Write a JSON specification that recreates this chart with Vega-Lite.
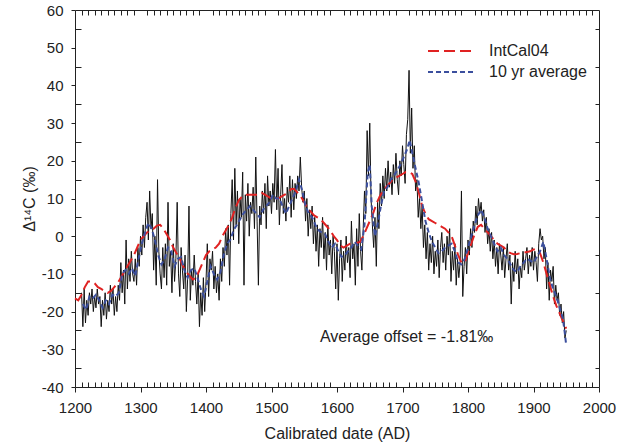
{
  "$schema": "https://vega.github.io/schema/vega-lite/v6.json",
  "width": 524,
  "height": 377,
  "autosize": "none",
  "padding": {"left": 75, "top": 10, "right": 23, "bottom": 59},
  "background": "white",
  "config": {
    "view": {"stroke": "#222", "strokeWidth": 1},
    "font": "Liberation Sans",
    "axis": {"labelFont": "Liberation Sans", "titleFont": "Liberation Sans", "labelColor": "#222", "titleColor": "#222", "tickColor": "#222", "domain": false, "grid": false, "titleFontWeight": "normal"}
  },
  "datasets": {
    "annual": [
      {"year":1210,"v":-15},{"year":1212,"v":-24},{"year":1214,"v":-14},{"year":1216,"v":-23},{"year":1218,"v":-17},{"year":1220,"v":-21},{"year":1222,"v":-15},{"year":1224,"v":-18},{"year":1226,"v":-14},{"year":1228,"v":-20},
      {"year":1230,"v":-16},{"year":1232,"v":-19},{"year":1234,"v":-14},{"year":1236,"v":-18},{"year":1238,"v":-16},{"year":1240,"v":-24},{"year":1242,"v":-17},{"year":1244,"v":-21},{"year":1246,"v":-15},{"year":1248,"v":-22},
      {"year":1250,"v":-17},{"year":1252,"v":-20},{"year":1254,"v":-13},{"year":1256,"v":-18},{"year":1258,"v":-14},{"year":1260,"v":-21},{"year":1262,"v":-16},{"year":1264,"v":-20},{"year":1266,"v":-13},{"year":1268,"v":-17},
      {"year":1270,"v":-7},{"year":1272,"v":-15},{"year":1274,"v":-9},{"year":1276,"v":-18},{"year":1278,"v":-1},{"year":1280,"v":-14},{"year":1282,"v":-6},{"year":1284,"v":-12},{"year":1286,"v":-4},{"year":1288,"v":-10},
      {"year":1290,"v":-12},{"year":1292,"v":-6},{"year":1294,"v":-13},{"year":1296,"v":-3},{"year":1298,"v":-8},{"year":1300,"v":0},{"year":1302,"v":-5},{"year":1304,"v":3},{"year":1306,"v":-3},{"year":1308,"v":5},
      {"year":1310,"v":9},{"year":1312,"v":-1},{"year":1314,"v":12},{"year":1316,"v":2},{"year":1318,"v":6},{"year":1320,"v":-9},{"year":1322,"v":0},{"year":1324,"v":-13},{"year":1326,"v":15},{"year":1328,"v":-4},
      {"year":1330,"v":-10},{"year":1332,"v":-14},{"year":1334,"v":-3},{"year":1336,"v":-11},{"year":1338,"v":-2},{"year":1340,"v":-13},{"year":1342,"v":9},{"year":1344,"v":-8},{"year":1346,"v":-4},{"year":1348,"v":-15},
      {"year":1350,"v":-2},{"year":1352,"v":-12},{"year":1354,"v":-6},{"year":1356,"v":9},{"year":1358,"v":-10},{"year":1360,"v":-16},{"year":1362,"v":-3},{"year":1364,"v":-9},{"year":1366,"v":-14},{"year":1368,"v":-5},
      {"year":1370,"v":-20},{"year":1372,"v":-11},{"year":1374,"v":8},{"year":1376,"v":-17},{"year":1378,"v":-9},{"year":1380,"v":-13},{"year":1382,"v":-5},{"year":1384,"v":-12},{"year":1386,"v":-18},{"year":1388,"v":-10},
      {"year":1390,"v":-24},{"year":1392,"v":-15},{"year":1394,"v":-21},{"year":1396,"v":-11},{"year":1398,"v":-20},{"year":1400,"v":-12},{"year":1402,"v":-2},{"year":1404,"v":-16},{"year":1406,"v":-6},{"year":1408,"v":-9},
      {"year":1410,"v":-4},{"year":1412,"v":-14},{"year":1414,"v":-8},{"year":1416,"v":-15},{"year":1418,"v":-10},{"year":1420,"v":-17},{"year":1422,"v":-6},{"year":1424,"v":-12},{"year":1426,"v":-3},{"year":1428,"v":-8},
      {"year":1430,"v":2},{"year":1432,"v":-5},{"year":1434,"v":3},{"year":1436,"v":-13},{"year":1438,"v":6},{"year":1440,"v":15},{"year":1442,"v":-1},{"year":1444,"v":18},{"year":1446,"v":3},{"year":1448,"v":12},
      {"year":1450,"v":-2},{"year":1452,"v":10},{"year":1454,"v":5},{"year":1456,"v":17},{"year":1458,"v":-13},{"year":1460,"v":11},{"year":1462,"v":4},{"year":1464,"v":14},{"year":1466,"v":0},{"year":1468,"v":9},
      {"year":1470,"v":6},{"year":1472,"v":13},{"year":1474,"v":2},{"year":1476,"v":21},{"year":1478,"v":4},{"year":1480,"v":-13},{"year":1482,"v":8},{"year":1484,"v":3},{"year":1486,"v":12},{"year":1488,"v":6},
      {"year":1490,"v":14},{"year":1492,"v":2},{"year":1494,"v":16},{"year":1496,"v":8},{"year":1498,"v":12},{"year":1500,"v":6},{"year":1502,"v":14},{"year":1504,"v":9},{"year":1506,"v":23},{"year":1508,"v":7},
      {"year":1510,"v":18},{"year":1512,"v":3},{"year":1514,"v":11},{"year":1516,"v":19},{"year":1518,"v":6},{"year":1520,"v":10},{"year":1522,"v":4},{"year":1524,"v":13},{"year":1526,"v":9},{"year":1528,"v":16},
      {"year":1530,"v":5},{"year":1532,"v":15},{"year":1534,"v":7},{"year":1536,"v":14},{"year":1538,"v":10},{"year":1540,"v":16},{"year":1542,"v":12},{"year":1544,"v":21},{"year":1546,"v":13},{"year":1548,"v":9},
      {"year":1550,"v":12},{"year":1552,"v":4},{"year":1554,"v":10},{"year":1556,"v":0},{"year":1558,"v":7},{"year":1560,"v":2},{"year":1562,"v":8},{"year":1564,"v":-2},{"year":1566,"v":5},{"year":1568,"v":-4},
      {"year":1570,"v":3},{"year":1572,"v":-8},{"year":1574,"v":2},{"year":1576,"v":-3},{"year":1578,"v":5},{"year":1580,"v":-6},{"year":1582,"v":1},{"year":1584,"v":-9},{"year":1586,"v":3},{"year":1588,"v":-5},
      {"year":1590,"v":-1},{"year":1592,"v":-10},{"year":1594,"v":0},{"year":1596,"v":-4},{"year":1598,"v":-14},{"year":1600,"v":-2},{"year":1602,"v":-17},{"year":1604,"v":-6},{"year":1606,"v":-1},{"year":1608,"v":-12},
      {"year":1610,"v":-4},{"year":1612,"v":-9},{"year":1614,"v":0},{"year":1616,"v":-7},{"year":1618,"v":-3},{"year":1620,"v":-11},{"year":1622,"v":4},{"year":1624,"v":-6},{"year":1626,"v":-2},{"year":1628,"v":-13},
      {"year":1630,"v":2},{"year":1632,"v":-8},{"year":1634,"v":6},{"year":1636,"v":-4},{"year":1638,"v":-9},{"year":1640,"v":2},{"year":1642,"v":12},{"year":1644,"v":6},{"year":1646,"v":28},{"year":1648,"v":16},
      {"year":1650,"v":30},{"year":1652,"v":10},{"year":1654,"v":3},{"year":1656,"v":-3},{"year":1658,"v":5},{"year":1660,"v":-8},{"year":1662,"v":9},{"year":1664,"v":2},{"year":1666,"v":14},{"year":1668,"v":8},
      {"year":1670,"v":16},{"year":1672,"v":10},{"year":1674,"v":18},{"year":1676,"v":12},{"year":1678,"v":20},{"year":1680,"v":13},{"year":1682,"v":17},{"year":1684,"v":11},{"year":1686,"v":19},{"year":1688,"v":14},
      {"year":1690,"v":22},{"year":1692,"v":15},{"year":1694,"v":11},{"year":1696,"v":20},{"year":1698,"v":16},{"year":1700,"v":24},{"year":1702,"v":19},{"year":1704,"v":14},{"year":1706,"v":27},{"year":1708,"v":31},
      {"year":1710,"v":44},{"year":1712,"v":22},{"year":1714,"v":34},{"year":1716,"v":18},{"year":1718,"v":24},{"year":1720,"v":12},{"year":1722,"v":15},{"year":1724,"v":5},{"year":1726,"v":10},{"year":1728,"v":2},
      {"year":1730,"v":8},{"year":1732,"v":-3},{"year":1734,"v":3},{"year":1736,"v":-6},{"year":1738,"v":1},{"year":1740,"v":-9},{"year":1742,"v":-2},{"year":1744,"v":-7},{"year":1746,"v":0},{"year":1748,"v":-10},
      {"year":1750,"v":-4},{"year":1752,"v":-8},{"year":1754,"v":-1},{"year":1756,"v":-11},{"year":1758,"v":-3},{"year":1760,"v":1},{"year":1762,"v":-7},{"year":1764,"v":-2},{"year":1766,"v":-9},{"year":1768,"v":0},
      {"year":1770,"v":-5},{"year":1772,"v":2},{"year":1774,"v":-12},{"year":1776,"v":-4},{"year":1778,"v":-9},{"year":1780,"v":-2},{"year":1782,"v":-13},{"year":1784,"v":-6},{"year":1786,"v":-11},{"year":1788,"v":-7},
      {"year":1790,"v":12},{"year":1792,"v":-16},{"year":1794,"v":-8},{"year":1796,"v":-3},{"year":1798,"v":-10},{"year":1800,"v":-1},{"year":1802,"v":-5},{"year":1804,"v":2},{"year":1806,"v":-3},{"year":1808,"v":4},
      {"year":1810,"v":1},{"year":1812,"v":8},{"year":1814,"v":3},{"year":1816,"v":10},{"year":1818,"v":6},{"year":1820,"v":9},{"year":1822,"v":4},{"year":1824,"v":7},{"year":1826,"v":1},{"year":1828,"v":5},
      {"year":1830,"v":-2},{"year":1832,"v":2},{"year":1834,"v":-4},{"year":1836,"v":1},{"year":1838,"v":-6},{"year":1840,"v":-1},{"year":1842,"v":-8},{"year":1844,"v":-3},{"year":1846,"v":-10},{"year":1848,"v":-2},
      {"year":1850,"v":-5},{"year":1852,"v":-9},{"year":1854,"v":-3},{"year":1856,"v":-11},{"year":1858,"v":-6},{"year":1860,"v":-2},{"year":1862,"v":-9},{"year":1864,"v":-5},{"year":1866,"v":-18},{"year":1868,"v":-7},
      {"year":1870,"v":-12},{"year":1872,"v":-4},{"year":1874,"v":-10},{"year":1876,"v":-6},{"year":1878,"v":-14},{"year":1880,"v":-8},{"year":1882,"v":-11},{"year":1884,"v":-4},{"year":1886,"v":-9},{"year":1888,"v":-6},
      {"year":1890,"v":-3},{"year":1892,"v":-10},{"year":1894,"v":-5},{"year":1896,"v":-8},{"year":1898,"v":-3},{"year":1900,"v":-9},{"year":1902,"v":-4},{"year":1904,"v":-7},{"year":1906,"v":-12},{"year":1908,"v":-2},
      {"year":1910,"v":2},{"year":1912,"v":-1},{"year":1914,"v":0},{"year":1916,"v":-6},{"year":1918,"v":-3},{"year":1920,"v":-14},{"year":1922,"v":-7},{"year":1924,"v":-17},{"year":1926,"v":-9},{"year":1928,"v":-12},
      {"year":1930,"v":-8},{"year":1932,"v":-18},{"year":1934,"v":-13},{"year":1936,"v":-17},{"year":1938,"v":-15},{"year":1940,"v":-21},{"year":1942,"v":-18},{"year":1944,"v":-23},{"year":1946,"v":-20},{"year":1948,"v":-27},{"year":1950,"v":-25}
    ],
    "intcal": [
      {"year":1200,"v":-16.5,"series":"IntCal04"},{"year":1205,"v":-17,"series":"IntCal04"},{"year":1210,"v":-15.5,"series":"IntCal04"},{"year":1215,"v":-13.5,"series":"IntCal04"},{"year":1220,"v":-12,"series":"IntCal04"},{"year":1225,"v":-12,"series":"IntCal04"},{"year":1230,"v":-12.5,"series":"IntCal04"},{"year":1235,"v":-13.5,"series":"IntCal04"},{"year":1240,"v":-14,"series":"IntCal04"},{"year":1245,"v":-14.5,"series":"IntCal04"},
      {"year":1250,"v":-15,"series":"IntCal04"},{"year":1255,"v":-14.5,"series":"IntCal04"},{"year":1260,"v":-13.5,"series":"IntCal04"},{"year":1265,"v":-12.5,"series":"IntCal04"},{"year":1270,"v":-11,"series":"IntCal04"},{"year":1275,"v":-9.5,"series":"IntCal04"},{"year":1280,"v":-8,"series":"IntCal04"},{"year":1285,"v":-6.5,"series":"IntCal04"},{"year":1290,"v":-5,"series":"IntCal04"},{"year":1295,"v":-3,"series":"IntCal04"},
      {"year":1300,"v":-1,"series":"IntCal04"},{"year":1305,"v":0,"series":"IntCal04"},{"year":1310,"v":1,"series":"IntCal04"},{"year":1315,"v":1.5,"series":"IntCal04"},{"year":1320,"v":2,"series":"IntCal04"},{"year":1325,"v":2.8,"series":"IntCal04"},{"year":1330,"v":3,"series":"IntCal04"},{"year":1335,"v":2,"series":"IntCal04"},{"year":1340,"v":0.5,"series":"IntCal04"},{"year":1345,"v":-1,"series":"IntCal04"},
      {"year":1350,"v":-3,"series":"IntCal04"},{"year":1355,"v":-4.5,"series":"IntCal04"},{"year":1360,"v":-6,"series":"IntCal04"},{"year":1365,"v":-8,"series":"IntCal04"},{"year":1370,"v":-9.5,"series":"IntCal04"},{"year":1375,"v":-10.5,"series":"IntCal04"},{"year":1380,"v":-11.5,"series":"IntCal04"},{"year":1385,"v":-11,"series":"IntCal04"},{"year":1390,"v":-9,"series":"IntCal04"},{"year":1395,"v":-7,"series":"IntCal04"},
      {"year":1400,"v":-5,"series":"IntCal04"},{"year":1405,"v":-4,"series":"IntCal04"},{"year":1410,"v":-3.5,"series":"IntCal04"},{"year":1415,"v":-3,"series":"IntCal04"},{"year":1420,"v":-2,"series":"IntCal04"},{"year":1425,"v":0,"series":"IntCal04"},{"year":1430,"v":1.5,"series":"IntCal04"},{"year":1435,"v":3,"series":"IntCal04"},{"year":1440,"v":5,"series":"IntCal04"},{"year":1445,"v":7.5,"series":"IntCal04"},
      {"year":1450,"v":9.5,"series":"IntCal04"},{"year":1455,"v":10.5,"series":"IntCal04"},{"year":1460,"v":11,"series":"IntCal04"},{"year":1465,"v":11,"series":"IntCal04"},{"year":1470,"v":11,"series":"IntCal04"},{"year":1475,"v":11,"series":"IntCal04"},{"year":1480,"v":11,"series":"IntCal04"},{"year":1485,"v":11.5,"series":"IntCal04"},{"year":1490,"v":11,"series":"IntCal04"},{"year":1495,"v":10.5,"series":"IntCal04"},
      {"year":1500,"v":10,"series":"IntCal04"},{"year":1505,"v":10,"series":"IntCal04"},{"year":1510,"v":10,"series":"IntCal04"},{"year":1515,"v":10.5,"series":"IntCal04"},{"year":1520,"v":11,"series":"IntCal04"},{"year":1525,"v":11.5,"series":"IntCal04"},{"year":1530,"v":12.5,"series":"IntCal04"},{"year":1535,"v":12.5,"series":"IntCal04"},{"year":1540,"v":11.5,"series":"IntCal04"},{"year":1545,"v":10.5,"series":"IntCal04"},
      {"year":1550,"v":9,"series":"IntCal04"},{"year":1555,"v":7.5,"series":"IntCal04"},{"year":1560,"v":6.5,"series":"IntCal04"},{"year":1565,"v":5.5,"series":"IntCal04"},{"year":1570,"v":5,"series":"IntCal04"},{"year":1575,"v":4.5,"series":"IntCal04"},{"year":1580,"v":3.5,"series":"IntCal04"},{"year":1585,"v":2.5,"series":"IntCal04"},{"year":1590,"v":1.5,"series":"IntCal04"},{"year":1595,"v":0,"series":"IntCal04"},
      {"year":1600,"v":-1,"series":"IntCal04"},{"year":1605,"v":-2.5,"series":"IntCal04"},{"year":1610,"v":-3,"series":"IntCal04"},{"year":1615,"v":-2.5,"series":"IntCal04"},{"year":1620,"v":-2,"series":"IntCal04"},{"year":1625,"v":-2,"series":"IntCal04"},{"year":1630,"v":-1.8,"series":"IntCal04"},{"year":1635,"v":-1.5,"series":"IntCal04"},{"year":1640,"v":0,"series":"IntCal04"},{"year":1645,"v":2,"series":"IntCal04"},
      {"year":1650,"v":4,"series":"IntCal04"},{"year":1655,"v":6,"series":"IntCal04"},{"year":1660,"v":8.5,"series":"IntCal04"},{"year":1665,"v":10.5,"series":"IntCal04"},{"year":1670,"v":12,"series":"IntCal04"},{"year":1675,"v":13,"series":"IntCal04"},{"year":1680,"v":14,"series":"IntCal04"},{"year":1685,"v":15,"series":"IntCal04"},{"year":1690,"v":15.5,"series":"IntCal04"},{"year":1695,"v":16,"series":"IntCal04"},
      {"year":1700,"v":16.5,"series":"IntCal04"},{"year":1705,"v":17,"series":"IntCal04"},{"year":1710,"v":17,"series":"IntCal04"},{"year":1715,"v":16.5,"series":"IntCal04"},{"year":1720,"v":14.5,"series":"IntCal04"},{"year":1725,"v":11.5,"series":"IntCal04"},{"year":1730,"v":8,"series":"IntCal04"},{"year":1735,"v":6,"series":"IntCal04"},{"year":1740,"v":4.5,"series":"IntCal04"},{"year":1745,"v":4,"series":"IntCal04"},
      {"year":1750,"v":3.5,"series":"IntCal04"},{"year":1755,"v":3,"series":"IntCal04"},{"year":1760,"v":2.5,"series":"IntCal04"},{"year":1765,"v":2,"series":"IntCal04"},{"year":1770,"v":1,"series":"IntCal04"},{"year":1775,"v":0,"series":"IntCal04"},{"year":1780,"v":-2.5,"series":"IntCal04"},{"year":1785,"v":-5,"series":"IntCal04"},{"year":1790,"v":-7,"series":"IntCal04"},{"year":1795,"v":-7,"series":"IntCal04"},
      {"year":1800,"v":-4.5,"series":"IntCal04"},{"year":1805,"v":-2,"series":"IntCal04"},{"year":1810,"v":0.5,"series":"IntCal04"},{"year":1815,"v":2.5,"series":"IntCal04"},{"year":1820,"v":3,"series":"IntCal04"},{"year":1825,"v":2,"series":"IntCal04"},{"year":1830,"v":1,"series":"IntCal04"},{"year":1835,"v":0,"series":"IntCal04"},{"year":1840,"v":-1,"series":"IntCal04"},{"year":1845,"v":-2,"series":"IntCal04"},
      {"year":1850,"v":-2.5,"series":"IntCal04"},{"year":1855,"v":-3,"series":"IntCal04"},{"year":1860,"v":-4,"series":"IntCal04"},{"year":1865,"v":-4.5,"series":"IntCal04"},{"year":1870,"v":-4.8,"series":"IntCal04"},{"year":1875,"v":-4.7,"series":"IntCal04"},{"year":1880,"v":-4.5,"series":"IntCal04"},{"year":1885,"v":-4.4,"series":"IntCal04"},{"year":1890,"v":-4.2,"series":"IntCal04"},{"year":1895,"v":-4,"series":"IntCal04"},
      {"year":1900,"v":-3.5,"series":"IntCal04"},{"year":1905,"v":-3.5,"series":"IntCal04"},{"year":1910,"v":-4.5,"series":"IntCal04"},{"year":1915,"v":-7,"series":"IntCal04"},{"year":1920,"v":-10,"series":"IntCal04"},{"year":1925,"v":-13,"series":"IntCal04"},{"year":1930,"v":-16,"series":"IntCal04"},{"year":1935,"v":-18.5,"series":"IntCal04"},{"year":1940,"v":-20.5,"series":"IntCal04"},{"year":1945,"v":-22.5,"series":"IntCal04"},{"year":1950,"v":-24.5,"series":"IntCal04"}
    ],
    "avg": [
      {"year":1212,"v":-18,"series":"10 yr average"},{"year":1217,"v":-19.5,"series":"10 yr average"},{"year":1222,"v":-16,"series":"10 yr average"},{"year":1227,"v":-16.5,"series":"10 yr average"},{"year":1232,"v":-15.5,"series":"10 yr average"},{"year":1237,"v":-17,"series":"10 yr average"},{"year":1242,"v":-19,"series":"10 yr average"},{"year":1247,"v":-17,"series":"10 yr average"},{"year":1252,"v":-18,"series":"10 yr average"},{"year":1257,"v":-15.5,"series":"10 yr average"},
      {"year":1262,"v":-16,"series":"10 yr average"},{"year":1267,"v":-15,"series":"10 yr average"},{"year":1272,"v":-10,"series":"10 yr average"},{"year":1277,"v":-9,"series":"10 yr average"},{"year":1282,"v":-10,"series":"10 yr average"},{"year":1287,"v":-8.5,"series":"10 yr average"},{"year":1292,"v":-10.5,"series":"10 yr average"},{"year":1297,"v":-6,"series":"10 yr average"},{"year":1302,"v":-2,"series":"10 yr average"},{"year":1307,"v":1,"series":"10 yr average"},
      {"year":1312,"v":3.5,"series":"10 yr average"},{"year":1317,"v":2,"series":"10 yr average"},{"year":1322,"v":-1,"series":"10 yr average"},{"year":1327,"v":-5,"series":"10 yr average"},{"year":1332,"v":-7.5,"series":"10 yr average"},{"year":1337,"v":-6,"series":"10 yr average"},{"year":1342,"v":-3,"series":"10 yr average"},{"year":1347,"v":-4,"series":"10 yr average"},{"year":1352,"v":-8,"series":"10 yr average"},{"year":1357,"v":-6,"series":"10 yr average"},
      {"year":1362,"v":-5.5,"series":"10 yr average"},{"year":1367,"v":-9,"series":"10 yr average"},{"year":1372,"v":-11,"series":"10 yr average"},{"year":1377,"v":-9,"series":"10 yr average"},{"year":1382,"v":-8.5,"series":"10 yr average"},{"year":1387,"v":-11,"series":"10 yr average"},{"year":1392,"v":-14,"series":"10 yr average"},{"year":1397,"v":-16,"series":"10 yr average"},{"year":1402,"v":-12,"series":"10 yr average"},{"year":1407,"v":-8,"series":"10 yr average"},
      {"year":1412,"v":-10,"series":"10 yr average"},{"year":1417,"v":-11.5,"series":"10 yr average"},{"year":1422,"v":-9.5,"series":"10 yr average"},{"year":1427,"v":-5,"series":"10 yr average"},{"year":1432,"v":-2,"series":"10 yr average"},{"year":1437,"v":-1,"series":"10 yr average"},{"year":1442,"v":1.5,"series":"10 yr average"},{"year":1447,"v":3,"series":"10 yr average"},{"year":1452,"v":4.5,"series":"10 yr average"},{"year":1457,"v":6,"series":"10 yr average"},
      {"year":1462,"v":7,"series":"10 yr average"},{"year":1467,"v":8,"series":"10 yr average"},{"year":1472,"v":7,"series":"10 yr average"},{"year":1477,"v":6,"series":"10 yr average"},{"year":1482,"v":5,"series":"10 yr average"},{"year":1487,"v":7,"series":"10 yr average"},{"year":1492,"v":8,"series":"10 yr average"},{"year":1497,"v":9,"series":"10 yr average"},{"year":1502,"v":11,"series":"10 yr average"},{"year":1507,"v":10,"series":"10 yr average"},
      {"year":1512,"v":10,"series":"10 yr average"},{"year":1517,"v":8,"series":"10 yr average"},{"year":1522,"v":6,"series":"10 yr average"},{"year":1527,"v":8,"series":"10 yr average"},{"year":1532,"v":10,"series":"10 yr average"},{"year":1537,"v":12,"series":"10 yr average"},{"year":1542,"v":15,"series":"10 yr average"},{"year":1547,"v":12,"series":"10 yr average"},{"year":1552,"v":8,"series":"10 yr average"},{"year":1557,"v":6,"series":"10 yr average"},
      {"year":1562,"v":5,"series":"10 yr average"},{"year":1567,"v":3,"series":"10 yr average"},{"year":1572,"v":1.5,"series":"10 yr average"},{"year":1577,"v":1,"series":"10 yr average"},{"year":1582,"v":0.5,"series":"10 yr average"},{"year":1587,"v":-1.5,"series":"10 yr average"},{"year":1592,"v":-3,"series":"10 yr average"},{"year":1597,"v":-2,"series":"10 yr average"},{"year":1602,"v":-4,"series":"10 yr average"},{"year":1607,"v":-5.5,"series":"10 yr average"},
      {"year":1612,"v":-5,"series":"10 yr average"},{"year":1617,"v":-4,"series":"10 yr average"},{"year":1622,"v":-3,"series":"10 yr average"},{"year":1627,"v":-1.5,"series":"10 yr average"},{"year":1632,"v":-2.5,"series":"10 yr average"},{"year":1637,"v":-3.5,"series":"10 yr average"},{"year":1642,"v":3,"series":"10 yr average"},{"year":1647,"v":17,"series":"10 yr average"},{"year":1650,"v":19,"series":"10 yr average"},{"year":1653,"v":8,"series":"10 yr average"},
      {"year":1658,"v":0,"series":"10 yr average"},{"year":1663,"v":4,"series":"10 yr average"},{"year":1667,"v":8,"series":"10 yr average"},{"year":1672,"v":12,"series":"10 yr average"},{"year":1677,"v":13,"series":"10 yr average"},{"year":1682,"v":15,"series":"10 yr average"},{"year":1687,"v":16,"series":"10 yr average"},{"year":1692,"v":17.5,"series":"10 yr average"},{"year":1697,"v":19,"series":"10 yr average"},{"year":1702,"v":21,"series":"10 yr average"},
      {"year":1707,"v":23,"series":"10 yr average"},{"year":1711,"v":25.5,"series":"10 yr average"},{"year":1715,"v":22,"series":"10 yr average"},{"year":1720,"v":18,"series":"10 yr average"},{"year":1725,"v":14,"series":"10 yr average"},{"year":1730,"v":9,"series":"10 yr average"},{"year":1735,"v":4,"series":"10 yr average"},{"year":1740,"v":1,"series":"10 yr average"},{"year":1745,"v":-1.5,"series":"10 yr average"},{"year":1750,"v":-3,"series":"10 yr average"},
      {"year":1755,"v":-4.5,"series":"10 yr average"},{"year":1760,"v":-4,"series":"10 yr average"},{"year":1765,"v":-3,"series":"10 yr average"},{"year":1770,"v":-2.5,"series":"10 yr average"},{"year":1775,"v":-2,"series":"10 yr average"},{"year":1780,"v":-4,"series":"10 yr average"},{"year":1785,"v":-7,"series":"10 yr average"},{"year":1790,"v":-7.5,"series":"10 yr average"},{"year":1795,"v":-6,"series":"10 yr average"},{"year":1800,"v":-3,"series":"10 yr average"},
      {"year":1805,"v":0,"series":"10 yr average"},{"year":1810,"v":3,"series":"10 yr average"},{"year":1815,"v":5.5,"series":"10 yr average"},{"year":1820,"v":7,"series":"10 yr average"},{"year":1825,"v":5,"series":"10 yr average"},{"year":1830,"v":2,"series":"10 yr average"},{"year":1835,"v":0,"series":"10 yr average"},{"year":1840,"v":-2,"series":"10 yr average"},{"year":1845,"v":-4,"series":"10 yr average"},{"year":1850,"v":-3,"series":"10 yr average"},
      {"year":1855,"v":-5,"series":"10 yr average"},{"year":1860,"v":-6,"series":"10 yr average"},{"year":1865,"v":-7.5,"series":"10 yr average"},{"year":1870,"v":-9,"series":"10 yr average"},{"year":1875,"v":-9.5,"series":"10 yr average"},{"year":1880,"v":-8,"series":"10 yr average"},{"year":1885,"v":-7,"series":"10 yr average"},{"year":1890,"v":-6,"series":"10 yr average"},{"year":1895,"v":-6.5,"series":"10 yr average"},{"year":1900,"v":-7,"series":"10 yr average"},
      {"year":1905,"v":-5.5,"series":"10 yr average"},{"year":1910,"v":-4,"series":"10 yr average"},{"year":1915,"v":-1.5,"series":"10 yr average"},{"year":1920,"v":-6,"series":"10 yr average"},{"year":1925,"v":-11,"series":"10 yr average"},{"year":1930,"v":-14,"series":"10 yr average"},{"year":1935,"v":-16,"series":"10 yr average"},{"year":1940,"v":-19,"series":"10 yr average"},{"year":1945,"v":-22,"series":"10 yr average"},{"year":1948,"v":-26,"series":"10 yr average"},{"year":1950,"v":-29,"series":"10 yr average"}
    ],
    "note": [
      {"year":1574,"v":-26.7,"label":"Average offset = -1.81‰"}
    ]
  },
  "layer": [
    {
      "data": {"name": "annual"},
      "mark": {"type": "line", "color": "#111111", "strokeWidth": 1},
      "encoding": {
        "x": {"field": "year", "type": "quantitative", "scale": {"domain": [1200, 2000], "nice": false, "zero": false},
          "axis": {"orient": "bottom", "title": "Calibrated date (AD)", "titleFontSize": 16, "titlePadding": 10,
            "values": [1200,1210,1220,1230,1240,1250,1260,1270,1280,1290,1300,1310,1320,1330,1340,1350,1360,1370,1380,1390,1400,1410,1420,1430,1440,1450,1460,1470,1480,1490,1500,1510,1520,1530,1540,1550,1560,1570,1580,1590,1600,1610,1620,1630,1640,1650,1660,1670,1680,1690,1700,1710,1720,1730,1740,1750,1760,1770,1780,1790,1800,1810,1820,1830,1840,1850,1860,1870,1880,1890,1900,1910,1920,1930,1940,1950,1960,1970,1980,1990,2000],
            "labelExpr": "datum.value % 100 === 0 ? datum.value + '' : ''",
            "labelFontSize": 15, "labelPadding": 8, "labelFlush": false, "labelOverlap": false,
            "tickSize": {"condition": {"test": "datum.value % 100 === 0", "value": 5}, "value": -5}}},
        "y": {"field": "v", "type": "quantitative", "scale": {"domain": [-40, 60], "nice": false, "zero": false},
          "axis": {"orient": "left", "title": "Δ¹⁴C (‰)", "titleFontSize": 16, "titlePadding": 4,
            "values": [-40,-35,-30,-25,-20,-15,-10,-5,0,5,10,15,20,25,30,35,40,45,50,55,60],
            "labelExpr": "datum.value % 10 === 0 ? datum.value + '' : ''",
            "labelFontSize": 15, "labelPadding": 8, "labelFlush": false, "labelOverlap": false,
            "tickSize": {"condition": {"test": "datum.value % 10 === 0", "value": 4}, "value": -6}}}
      }
    },
    {
      "data": {"name": "intcal"},
      "mark": {"type": "line", "strokeWidth": 2},
      "encoding": {
        "x": {"field": "year", "type": "quantitative", "scale": {"domain": [1200, 2000], "nice": false, "zero": false},
          "axis": {"orient": "top", "title": null, "labels": false, "tickSize": -5,
            "values": [1210,1220,1230,1240,1250,1260,1270,1280,1290,1310,1320,1330,1340,1350,1360,1370,1380,1390,1410,1420,1430,1440,1450,1460,1470,1480,1490,1510,1520,1530,1540,1550,1560,1570,1580,1590,1610,1620,1630,1640,1650,1660,1670,1680,1690,1710,1720,1730,1740,1750,1760,1770,1780,1790,1810,1820,1830,1840,1850,1860,1870,1880,1890,1910,1920,1930,1940,1950,1960,1970,1980,1990]}},
        "y": {"field": "v", "type": "quantitative", "scale": {"domain": [-40, 60], "nice": false, "zero": false},
          "axis": {"orient": "right", "title": null, "labels": false, "tickSize": -4,
            "values": [-35,-25,-15,-5,5,15,25,35,45,55]}},
        "color": {"field": "series", "type": "nominal",
          "scale": {"domain": ["IntCal04", "10 yr average"], "range": ["#e02222", "#3b4f9e"]},
          "legend": {"title": null, "orient": "none", "legendX": 369, "legendY": 33, "symbolType": "M-4,0H4", "symbolSize": 144, "symbolStrokeWidth": 2, "symbolFillColor": "transparent", "labelFontSize": 16, "labelFont": "Liberation Sans", "labelColor": "#222", "labelOffset": 29, "padding": 0, "rowPadding": 5}},
        "strokeDash": {"field": "series", "type": "nominal",
          "scale": {"domain": ["IntCal04", "10 yr average"], "range": [[11, 5], [5, 3]]},
          "legend": {"title": null, "orient": "none", "legendX": 369, "legendY": 33, "symbolType": "M-4,0H4", "symbolSize": 144, "symbolStrokeWidth": 2, "symbolFillColor": "transparent", "labelFontSize": 16, "labelFont": "Liberation Sans", "labelColor": "#222", "labelOffset": 29, "padding": 0, "rowPadding": 5}}
      }
    },
    {
      "data": {"name": "avg"},
      "mark": {"type": "line", "strokeWidth": 2},
      "encoding": {
        "x": {"field": "year", "type": "quantitative", "scale": {"domain": [1200, 2000], "nice": false, "zero": false}, "axis": null},
        "y": {"field": "v", "type": "quantitative", "scale": {"domain": [-40, 60], "nice": false, "zero": false}, "axis": null},
        "color": {"field": "series", "type": "nominal"},
        "strokeDash": {"field": "series", "type": "nominal"}
      }
    },
    {
      "data": {"name": "note"},
      "mark": {"type": "text", "align": "left", "baseline": "middle", "fontSize": 16, "font": "Liberation Sans", "color": "#222"},
      "encoding": {
        "x": {"field": "year", "type": "quantitative", "scale": {"domain": [1200, 2000], "nice": false, "zero": false}, "axis": null},
        "y": {"field": "v", "type": "quantitative", "scale": {"domain": [-40, 60], "nice": false, "zero": false}, "axis": null},
        "text": {"field": "label"}
      }
    }
  ],
  "resolve": {"axis": {"x": "independent", "y": "independent"}}
}
